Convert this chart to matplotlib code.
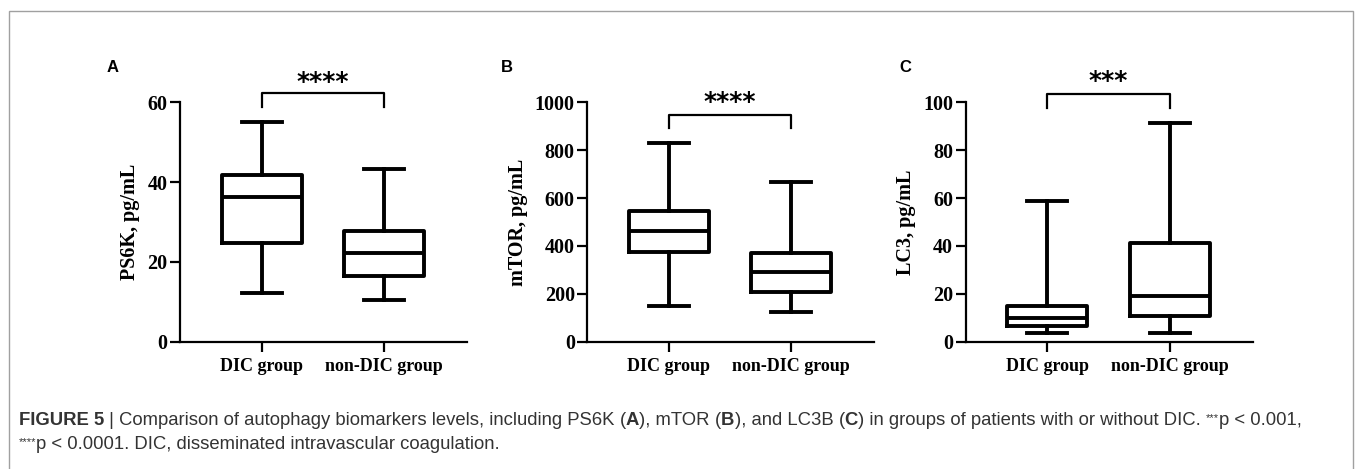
import matplotlib
matplotlib.use('Agg')
import matplotlib.pyplot as plt
from matplotlib.patches import Rectangle

# box stats: whisker low, Q1, median, Q3, whisker high
groups = ['DIC group', 'non-DIC group']
ps6k_dic = [12.1, 24.7, 36.2, 41.9, 55.1]
ps6k_non = [10.5, 16.5, 22.2, 27.8, 43.2]
mtor_dic = [149, 376, 464, 547, 829]
mtor_non = [123, 206, 290, 372, 668]
lc3_dic = [3.8, 6.7, 9.7, 14.9, 58.6]
lc3_non = [3.8, 10.7, 19.2, 41.3, 91.4]

ylabels = ['PS6K, pg/mL', 'mTOR, pg/mL', 'LC3, pg/mL']
yticks = [[0, 20, 40, 60], [0, 200, 400, 600, 800, 1000], [0, 20, 40, 60, 80, 100]]
stars = ['****', '****', '***']
# bracket (top, leg end, star y) in data units
brackets = [(62.4, 58.8, 65.2), (947, 891, 1000), (103.5, 97.7, 109.0)]
panel_letters = ['A', 'B', 'C']

SERIF = 'Liberation Serif'
SANS = 'Liberation Sans'
LW = 2.8

def stat(v):
    return dict(whislo=v[0], q1=v[1], med=v[2], q3=v[3], whishi=v[4], fliers=[])

W, H = 1355, 469
fig = plt.figure(figsize=(W / 100, H / 100), dpi=100)

lefts = [180, 587.3, 965.7]
data = [(ps6k_dic, ps6k_non), (mtor_dic, mtor_non), (lc3_dic, lc3_non)]
letter_x = [113, 507, 905]

for i in range(3):
    ax = fig.add_axes([lefts[i] / W, 1 - 341.7 / H, 287 / W, 239.4 / H])
    d1, d2 = data[i]
    kw = dict(color='black', linewidth=LW)
    ax.bxp([stat(d1), stat(d2)], positions=[1, 2], widths=0.654, capwidths=0.327,
           showfliers=False, boxprops=kw, whiskerprops=kw, capprops=kw,
           medianprops=kw)
    ax.set_xlim(0.332, 2.679)
    ax.set_ylim(0, yticks[i][-1])
    ax.set_yticks(yticks[i])
    ax.set_xticks([1, 2])
    ax.set_xticklabels(groups)
    for s in ['top', 'right']:
        ax.spines[s].set_visible(False)
    for s in ['left', 'bottom']:
        ax.spines[s].set_linewidth(1.6)
    ax.tick_params(axis='both', width=1.6, length=7, pad=2)
    ax.tick_params(axis='y', labelsize=14.5)
    ax.tick_params(axis='x', labelsize=13, pad=5)
    for lab in ax.get_xticklabels() + ax.get_yticklabels():
        lab.set_fontfamily(SERIF)
        lab.set_fontweight('bold')
    ax.set_ylabel(ylabels[i], fontfamily=SERIF, fontweight='bold', fontsize=14.5, labelpad=5)

    # significance bracket
    top, leg, sy = brackets[i]
    ax.plot([1, 1, 2, 2], [leg, top, top, leg], color='black', linewidth=1.6, clip_on=False)
    ax.text(1.5, sy, stars[i], ha='center', va='center', fontsize=18,
            fontfamily='DejaVu Sans', fontweight='bold', clip_on=False)

    fig.text(letter_x[i] / W, 1 - 68 / H, panel_letters[i], ha='center', va='center',
             fontsize=12, fontfamily=SANS, fontweight='bold')

# frame round the figure
fig.patches.append(Rectangle((9 / W, -0.2), (1353 - 9) / W, 1.2 - 11 / H,
                             transform=fig.transFigure, fill=False,
                             edgecolor='#a0a0a0', linewidth=1.0))

# caption, built from pieces placed one after the other
cap_color = '#333333'
cfs = 13.3
sfs = 8

line1 = [('FIGURE 5', True, cfs), (' | Comparison of autophagy biomarkers levels, including PS6K ', False, cfs),
         ('(', False, cfs), ('A', True, cfs), ('), mTOR ', False, cfs),
         ('(', False, cfs), ('B', True, cfs), ('), and LC3B ', False, cfs),
         ('(', False, cfs), ('C', True, cfs),
         (') in groups of patients with or without DIC. ', False, cfs),
         ('***', False, sfs), ('p < 0.001,', False, cfs)]
line2 = [('****', False, sfs), ('p < 0.0001. DIC, disseminated intravascular coagulation.', False, cfs)]

fig.canvas.draw()
renderer = fig.canvas.get_renderer()

def place(pieces, x, y):
    cur = x
    for txt, bold, size in pieces:
        raise_px = 4 if size < cfs else 0
        t = fig.text(cur / W, 1 - (y - raise_px) / H, txt, va='baseline', ha='left',
                     fontsize=size, fontfamily=SANS, color=cap_color,
                     fontweight='bold' if bold else 'normal')
        cur += t.get_window_extent(renderer).width

place(line1, 19, 425)
place(line2, 19, 449)

fig.savefig('out.png', dpi=100)
